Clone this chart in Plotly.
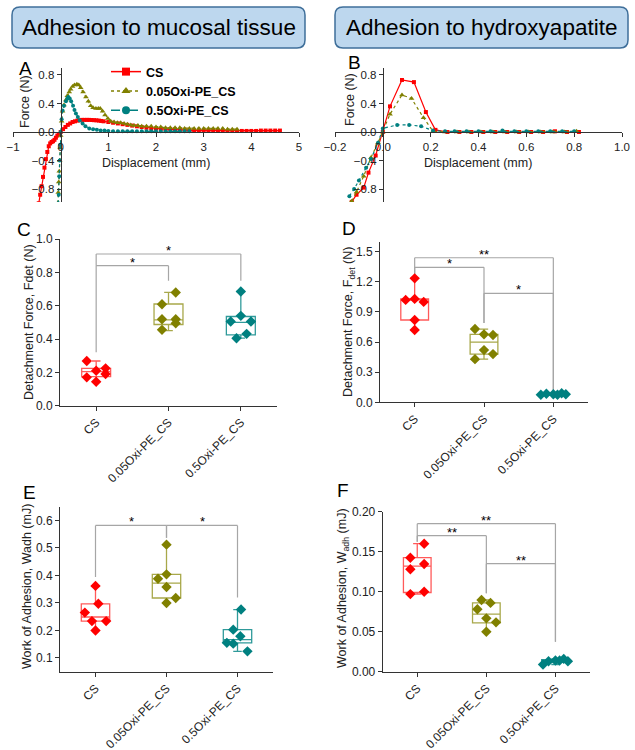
import plotly.graph_objects as go

W, H = 635, 750
FONT = "Liberation Sans, Arial, sans-serif"
RED, OLIVE, TEAL = "#ff0000", "#808000", "#008080"
BOXC = ["#ff5a5a", "#a8a84a", "#2f9a9a"]
PTC = [RED, OLIVE, TEAL]

def fx(p):
    return p / W

def fy(p):
    return 1 - p / H

# ---------------- data: force-displacement curves ----------------
groups = ["CS", "0.05Oxi-PE_CS", "0.5Oxi-PE_CS"]

A_cs_x = [-0.46, -0.43, -0.40, -0.37, -0.34, -0.31, -0.28, -0.25, -0.22, -0.19, -0.16, -0.13, -0.10, -0.07, -0.04, 0.0,
          0.05, 0.10, 0.15, 0.20, 0.25, 0.30, 0.35, 0.40, 0.45, 0.50, 0.55, 0.60, 0.65, 0.70, 0.75, 0.80, 0.85, 0.90,
          1.0, 1.1, 1.2, 1.3, 1.4, 1.5, 1.6, 1.7, 1.8, 1.9, 2.0, 2.1, 2.2, 2.3, 2.4, 2.5, 2.6, 2.7, 2.8, 2.9, 3.0,
          3.1, 3.2, 3.3, 3.4, 3.5, 3.6, 3.7, 3.8, 3.9, 4.0, 4.1, 4.2, 4.3, 4.4, 4.5, 4.6]
A_cs_y = [-1.0, -0.88, -0.76, -0.63, -0.50, -0.38, -0.28, -0.20, -0.16, -0.14, -0.13, -0.11, -0.08, -0.05, -0.03, 0.0,
          0.04, 0.07, 0.10, 0.12, 0.14, 0.15, 0.16, 0.165, 0.17, 0.17, 0.17, 0.17, 0.168, 0.166, 0.164, 0.16, 0.155, 0.15,
          0.14, 0.13, 0.12, 0.11, 0.10, 0.09, 0.08, 0.07, 0.06, 0.05, 0.05, 0.045, 0.04, 0.04, 0.035, 0.03, 0.03, 0.025,
          0.02, 0.02, 0.02, 0.02, 0.02, 0.015, 0.015, 0.015, 0.015, 0.015, 0.015, 0.015, 0.015, 0.015, 0.02, 0.02, 0.02,
          0.02, 0.02]
A_005_x = [-0.06, -0.05, -0.04, -0.03, -0.02, -0.01, 0.0, 0.02, 0.04, 0.07, 0.11, 0.14, 0.18, 0.21, 0.25, 0.29, 0.34,
           0.38, 0.42, 0.47, 0.53, 0.58, 0.63, 0.68, 0.74, 0.79, 0.83, 0.88, 0.93, 0.99, 1.05, 1.12, 1.19, 1.26, 1.33,
           1.40, 1.47, 1.54, 1.62, 1.70, 1.80, 1.90, 2.0, 2.1, 2.2, 2.3, 2.4, 2.5, 2.6, 2.7, 2.8, 2.9, 3.0, 3.1, 3.2,
           3.3, 3.4, 3.5, 3.6, 3.7]
A_005_y = [-1.0, -0.85, -0.70, -0.55, -0.40, -0.22, -0.05, 0.15, 0.29, 0.38, 0.45, 0.51, 0.56, 0.60, 0.64, 0.66, 0.67,
           0.66, 0.62, 0.56, 0.49, 0.43, 0.37, 0.34, 0.33, 0.33, 0.33, 0.29, 0.24, 0.19, 0.15, 0.14, 0.13, 0.13, 0.12,
           0.11, 0.10, 0.09, 0.09, 0.08, 0.08, 0.08, 0.07, 0.07, 0.06, 0.06, 0.06, 0.06, 0.05, 0.05, 0.05, 0.05, 0.05,
           0.05, 0.05, 0.05, 0.05, 0.04, 0.04, 0.04]
A_05_x = [-0.05, -0.04, -0.03, -0.02, -0.01, 0.0, 0.02, 0.04, 0.07, 0.11, 0.14, 0.16, 0.19, 0.22, 0.26, 0.29, 0.32,
          0.36, 0.40, 0.46, 0.52, 0.60, 0.68, 0.76, 0.84, 0.92, 1.0, 1.1, 1.2, 1.3, 1.4, 1.5, 1.6, 1.7, 1.8, 1.9, 2.0,
          2.1, 2.2, 2.3, 2.4, 2.5, 2.6, 2.7]
A_05_y = [-1.0, -0.88, -0.62, -0.40, -0.18, 0.0, 0.18, 0.30, 0.37, 0.43, 0.47, 0.49, 0.47, 0.43, 0.37, 0.31, 0.26,
          0.21, 0.16, 0.12, 0.08, 0.05, 0.04, 0.03, 0.02, 0.02, 0.015, 0.01, 0.01, 0.01, 0.01, 0.01, 0.01, 0.01, 0.01,
          0.01, 0.01, 0.01, 0.01, 0.01, 0.01, 0.01, 0.01, 0.01]

B_cs_x = [-0.13, -0.11, -0.08, -0.06, -0.03, 0.0, 0.03, 0.08, 0.13, 0.18, 0.22, 0.27, 0.32, 0.37, 0.42, 0.47, 0.52,
          0.57, 0.62, 0.67, 0.72, 0.77, 0.82]
B_cs_y = [-0.98, -0.88, -0.78, -0.57, -0.33, 0.0, 0.36, 0.73, 0.70, 0.28, 0.03, 0.0, 0.0, 0.0, 0.0, 0.0, 0.0,
          0.0, 0.0, 0.0, 0.01, 0.0, 0.0]
B_005_x = [-0.13, -0.11, -0.08, -0.05, -0.02, 0.0, 0.03, 0.08, 0.12, 0.17, 0.21, 0.26, 0.31, 0.36, 0.41, 0.46, 0.51,
           0.56, 0.61, 0.66, 0.71, 0.76, 0.81]
B_005_y = [-0.97, -0.84, -0.62, -0.36, -0.15, 0.0, 0.25, 0.52, 0.47, 0.20, 0.01, 0.0, 0.0, 0.0, 0.0, 0.0, 0.0,
           0.0, 0.0, 0.0, 0.0, 0.0, 0.01]
B_05_x = [-0.14, -0.12, -0.10, -0.07, -0.05, -0.02, 0.0, 0.06, 0.11, 0.16, 0.21, 0.26, 0.30, 0.35, 0.40, 0.45, 0.50,
          0.55, 0.60, 0.65, 0.70, 0.75, 0.80]
B_05_y = [-0.90, -0.80, -0.68, -0.50, -0.38, -0.15, 0.05, 0.10, 0.10, 0.08, 0.02, 0.01, 0.01, 0.01, 0.01, 0.01, 0.02,
          0.01, 0.01, 0.01, 0.01, 0.01, 0.01]

# ---------------- data: box plots (individual measurements) ----------------
C_vals = [[0.268, 0.170, 0.210, 0.144, 0.224, 0.190],
          [0.679, 0.609, 0.519, 0.519, 0.495, 0.455],
          [0.685, 0.539, 0.505, 0.505, 0.431, 0.405]]
D_vals = [[1.235, 1.02, 1.03, 1.00, 0.82, 0.72],
          [0.73, 0.677, 0.67, 0.52, 0.48, 0.43],
          [0.075, 0.085, 0.08, 0.075, 0.09, 0.08]]
E_vals = [[0.362, 0.297, 0.265, 0.234, 0.234, 0.200],
          [0.512, 0.388, 0.404, 0.358, 0.318, 0.300],
          [0.276, 0.203, 0.179, 0.155, 0.152, 0.124]]
F_vals = [[0.160, 0.1425, 0.1346, 0.128, 0.097, 0.100],
          [0.0896, 0.086, 0.078, 0.0667, 0.0617, 0.050],
          [0.009, 0.013, 0.014, 0.014, 0.016, 0.013]]

# box statistics: q1, median, q3, lower whisker, upper whisker
C_q1 = [0.174, 0.487, 0.425]; C_med = [0.204, 0.515, 0.50]; C_q3 = [0.224, 0.61, 0.535]
C_lo = [0.144, 0.45, 0.405]; C_hi = [0.268, 0.68, 0.685]
D_q1 = [0.82, 0.48, 0.075]; D_med = [1.02, 0.60, 0.08]; D_q3 = [1.03, 0.677, 0.085]
D_lo = [0.72, 0.43, 0.07]; D_hi = [1.235, 0.73, 0.09]
E_q1 = [0.234, 0.318, 0.155]; E_med = [0.249, 0.372, 0.167]; E_q3 = [0.297, 0.404, 0.203]
E_lo = [0.20, 0.30, 0.124]; E_hi = [0.362, 0.512, 0.276]
F_q1 = [0.099, 0.061, 0.012]; F_med = [0.132, 0.072, 0.0135]; F_q3 = [0.1425, 0.086, 0.015]
F_lo = [0.097, 0.05, 0.009]; F_hi = [0.160, 0.0896, 0.016]

# horizontal spread of the dots inside each box (layout only)
C_off = [[-0.13, -0.13, 0, 0, 0.13, 0.13], [0.1, -0.09, -0.09, 0.1, 0.1, -0.09], [0, 0, -0.14, 0.14, 0.08, -0.06]]
D_off = [[0, -0.13, 0, 0.13, 0, 0], [-0.13, 0, 0.13, 0, 0.13, -0.13], [-0.18, -0.1, 0, 0.06, 0.12, 0.18]]
E_off = [[0, 0.04, -0.15, -0.05, 0.15, 0], [0, -0.12, 0, 0, 0.13, 0], [0.05, -0.06, 0.04, -0.15, -0.06, 0.14]]
F_off = [[0.1, -0.1, 0.1, -0.1, -0.1, 0.1], [-0.07, 0.06, -0.13, 0, 0.14, 0], [-0.18, -0.1, 0, 0.06, 0.12, 0.18]]

# significance brackets: (left group, right group, bar height, left foot, right foot, label)
C_sig = [(0, 1, 0.84, 0.32, 0.75, "*"), (0, 2, 0.91, 0.84, 0.75, "*")]
D_sig = [(0, 1, 1.345, 1.27, 0.79, "*"), (0, 2, 1.44, 1.27, 0.10, "**"), (1, 2, 1.086, 0.79, 0.10, "*")]
E_sig = [(0, 1, 0.582, 0.394, 0.537, "*"), (1, 2, 0.582, 0.537, 0.32, "*")]
F_sig = [(0, 2, 0.185, 0.1625, 0.0375, "**"), (0, 1, 0.17, 0.1625, 0.098, "**"), (1, 2, 0.135, 0.098, 0.0375, "**")]

fig = go.Figure()

# ---------------- curves A & B ----------------
styles = [(RED, "solid", "square", 4), (OLIVE, "dot", "triangle-up", 5), (TEAL, "dot", "circle", 4)]
curvesA = [(A_cs_x, A_cs_y), (A_005_x, A_005_y), (A_05_x, A_05_y)]
curvesB = [(B_cs_x, B_cs_y), (B_005_x, B_005_y), (B_05_x, B_05_y)]
for ax, curves in (("", curvesA), ("2", curvesB)):
    for (xs, ys), (c, d, s, ms) in zip(curves, styles):
        fig.add_trace(go.Scatter(x=xs, y=ys, mode="lines+markers", line=dict(color=c, width=1.2, dash=d),
                                 marker=dict(symbol=s, size=ms, color=c), showlegend=False,
                                 xaxis="x" + ax, yaxis="y" + ax, cliponaxis=True))
leg_styles = [(RED, "solid", "square"), (OLIVE, "dot", "triangle-up"), (TEAL, "dash", "circle")]
for g, (c, d, s) in zip(groups, leg_styles):
    fig.add_trace(go.Scatter(x=[None], y=[None], mode="lines+markers", name="<b>" + g + "</b>",
                             line=dict(color=c, width=1.5, dash=d), marker=dict(symbol=s, size=8, color=c),
                             xaxis="x", yaxis="y"))

# ---------------- box panels ----------------
panels = [
    ("3", C_vals, C_off, C_q1, C_med, C_q3, C_lo, C_hi, C_sig),
    ("4", D_vals, D_off, D_q1, D_med, D_q3, D_lo, D_hi, D_sig),
    ("5", E_vals, E_off, E_q1, E_med, E_q3, E_lo, E_hi, E_sig),
    ("6", F_vals, F_off, F_q1, F_med, F_q3, F_lo, F_hi, F_sig),
]
shapes = []
annotations = []
for ax, vals, offs, q1, med, q3, lo, hi, sig in panels:
    for i in range(3):
        fig.add_trace(go.Box(x=[i], q1=[q1[i]], median=[med[i]], q3=[q3[i]], lowerfence=[lo[i]],
                             upperfence=[hi[i]], width=0.4, whiskerwidth=0.3, boxpoints=False,
                             fillcolor="rgba(0,0,0,0)", line=dict(color=BOXC[i], width=1.3),
                             showlegend=False, xaxis="x" + ax, yaxis="y" + ax))
        fig.add_trace(go.Scatter(x=[i + o for o in offs[i]], y=vals[i], mode="markers",
                                 marker=dict(symbol="diamond", size=8, color=PTC[i]), showlegend=False,
                                 xaxis="x" + ax, yaxis="y" + ax))
    for (a, b, yt, yl, yr, lab) in sig:
        for (x0, y0, x1, y1) in ((a, yt, b, yt), (a, yl, a, yt), (b, yr, b, yt)):
            shapes.append(dict(type="line", xref="x" + ax, yref="y" + ax, x0=x0, y0=y0, x1=x1, y1=y1,
                               line=dict(color="#a6a6a6", width=1.2), layer="below"))
        annotations.append(dict(xref="x" + ax, yref="y" + ax, x=(a + b) / 2, y=yt, text=lab, showarrow=False,
                                yanchor="bottom", yshift=-6, font=dict(family=FONT, size=13, color="black")))

# ---------------- axes ----------------
layout_axes = {}
tickfont = dict(family=FONT, size=11.5, color="#222")

def free_axes(n, xdom, ydom, xr, yr, xtv, ytv, xfmt, yfmt):
    xd = [fx(xdom[0]), fx(xdom[1])]
    yd = [fy(ydom[1]), fy(ydom[0])]
    ypos = yd[0] + (0 - yr[0]) / (yr[1] - yr[0]) * (yd[1] - yd[0])
    xpos = xd[0] + (0 - xr[0]) / (xr[1] - xr[0]) * (xd[1] - xd[0])
    sx = "" if n == 1 else str(n)
    layout_axes["xaxis" + sx] = dict(domain=xd, range=xr, anchor="free", position=ypos, tickvals=xtv,
                                     tickformat=xfmt, showline=True, linecolor="#333", linewidth=1,
                                     ticks="outside", ticklen=4, tickcolor="#333", showgrid=False,
                                     zeroline=False, tickfont=tickfont)
    layout_axes["yaxis" + sx] = dict(domain=yd, range=yr, anchor="free", position=xpos, tickvals=ytv,
                                     tickformat=yfmt, showline=True, linecolor="#333", linewidth=1,
                                     ticks="outside", ticklen=4, tickcolor="#333", showgrid=False,
                                     zeroline=False, tickfont=tickfont)

free_axes(1, (13, 299), (68, 202), [-1, 5], [-0.982, 0.898], [-1, 0, 1, 2, 3, 4, 5],
          [-0.8, -0.4, 0, 0.4, 0.8], "d", ".1f")
free_axes(2, (335, 622), (68, 202), [-0.2, 1.0], [-0.982, 0.898], [-0.2, 0, 0.2, 0.4, 0.6, 0.8, 1.0],
          [-0.8, -0.4, 0, 0.4, 0.8], ".1f", ".1f")

def box_axes(n, xdom, ydom, yr, ytv, yfmt):
    sx = str(n)
    layout_axes["xaxis" + sx] = dict(domain=[fx(xdom[0]), fx(xdom[1])], range=[-0.5, 2.5], anchor="y" + sx,
                                     tickvals=[0, 1, 2], ticktext=groups, tickangle=-45, showline=True,
                                     linecolor="#333", linewidth=1, ticks="outside", ticklen=4,
                                     tickcolor="#333", showgrid=False, zeroline=False,
                                     tickfont=dict(family=FONT, size=12, color="#222"))
    layout_axes["yaxis" + sx] = dict(domain=[fy(ydom[1]), fy(ydom[0])], range=yr, anchor="x" + sx,
                                     tickvals=ytv, tickformat=yfmt, showline=True, linecolor="#333",
                                     linewidth=1, ticks="outside", ticklen=4, tickcolor="#333",
                                     showgrid=False, zeroline=False,
                                     tickfont=dict(family=FONT, size=12, color="#222"))

box_axes(3, (60, 277), (239, 405.7), [0, 1.0], [0, 0.2, 0.4, 0.6, 0.8, 1.0], ".1f")
box_axes(4, (380, 588), (241.7, 402.3), [0, 1.6], [0, 0.3, 0.6, 0.9, 1.2, 1.5], ".1f")
box_axes(5, (60, 273), (506.7, 671.7), [0.05, 0.65], [0.1, 0.2, 0.3, 0.4, 0.5, 0.6], ".1f")
box_axes(6, (382.7, 590), (511.7, 671.7), [0, 0.2], [0, 0.05, 0.1, 0.15, 0.2], ".2f")

# ---------------- header boxes ----------------
def rounded(x0, y0, x1, y1, r):
    pts = [("M", x0 + r, y0), ("L", x1 - r, y0), ("Q", x1, y0, x1, y0 + r), ("L", x1, y1 - r),
           ("Q", x1, y1, x1 - r, y1), ("L", x0 + r, y1), ("Q", x0, y1, x0, y1 - r), ("L", x0, y0 + r),
           ("Q", x0, y0, x0 + r, y0)]
    s = ""
    for p in pts:
        cmd = p[0]
        coords = p[1:]
        parts = []
        for k in range(0, len(coords), 2):
            parts.append("%.5f,%.5f" % (fx(coords[k]), fy(coords[k + 1])))
        s += cmd + " " + " ".join(parts) + " "
    return s + "Z"

for (x0, x1, title) in ((12, 305, "Adhesion to mucosal tissue"), (335, 628, "Adhesion to hydroxyapatite")):
    shapes.append(dict(type="path", xref="paper", yref="paper", path=rounded(x0, 7, x1, 48, 8),
                       fillcolor="#bdd7ee", line=dict(color="#3f6f9a", width=1.5), layer="below"))
    annotations.append(dict(xref="paper", yref="paper", x=fx((x0 + x1) / 2), y=fy(28), text=title,
                            showarrow=False, xanchor="center", yanchor="middle",
                            font=dict(family=FONT, size=22.5, color="black")))

# ---------------- panel letters & axis titles ----------------
for (lab, px, py) in (("A", 25, 69), ("B", 354, 62), ("C", 24, 230), ("D", 349, 228), ("E", 29, 492), ("F", 343, 490)):
    annotations.append(dict(xref="paper", yref="paper", x=fx(px), y=fy(py), text=lab, showarrow=False,
                            xanchor="center", yanchor="middle", font=dict(family=FONT, size=19, color="black")))

ytitles = [("Force (N)", 25, 102), ("Force (N)", 350, 100),
           ("Detachment Force, Fdet (N)", 29, 322), ("Detachment Force, F<sub>det</sub> (N)", 349, 322),
           ("Work of Adhesion, Wadh (mJ)", 27, 587), ("Work of Adhesion, W<sub>adh</sub> (mJ)", 343, 588)]
for (t, px, py) in ytitles:
    annotations.append(dict(xref="paper", yref="paper", x=fx(px), y=fy(py), text=t, showarrow=False,
                            textangle=-90, xanchor="center", yanchor="middle",
                            font=dict(family=FONT, size=12.5, color="#222")))
for (px, py) in ((156, 163), (478, 163)):
    annotations.append(dict(xref="paper", yref="paper", x=fx(px), y=fy(py), text="Displacement (mm)",
                            showarrow=False, xanchor="center", yanchor="middle",
                            font=dict(family=FONT, size=12.5, color="#222")))

fig.update_layout(
    width=W, height=H, autosize=False,
    margin=dict(l=0, r=0, t=0, b=0, pad=0, autoexpand=False),
    paper_bgcolor="white", plot_bgcolor="white",
    showlegend=True,
    legend=dict(x=fx(106), y=fy(57), xanchor="left", yanchor="top", bgcolor="rgba(0,0,0,0)",
                font=dict(family=FONT, size=12.5, color="black"), itemwidth=30, tracegroupgap=0),
    shapes=shapes, annotations=annotations,
    **layout_axes
)

fig.write_html("out.html", config={"displayModeBar": False},
               post_script="document.body.style.margin='0px';document.body.style.overflow='hidden';")
